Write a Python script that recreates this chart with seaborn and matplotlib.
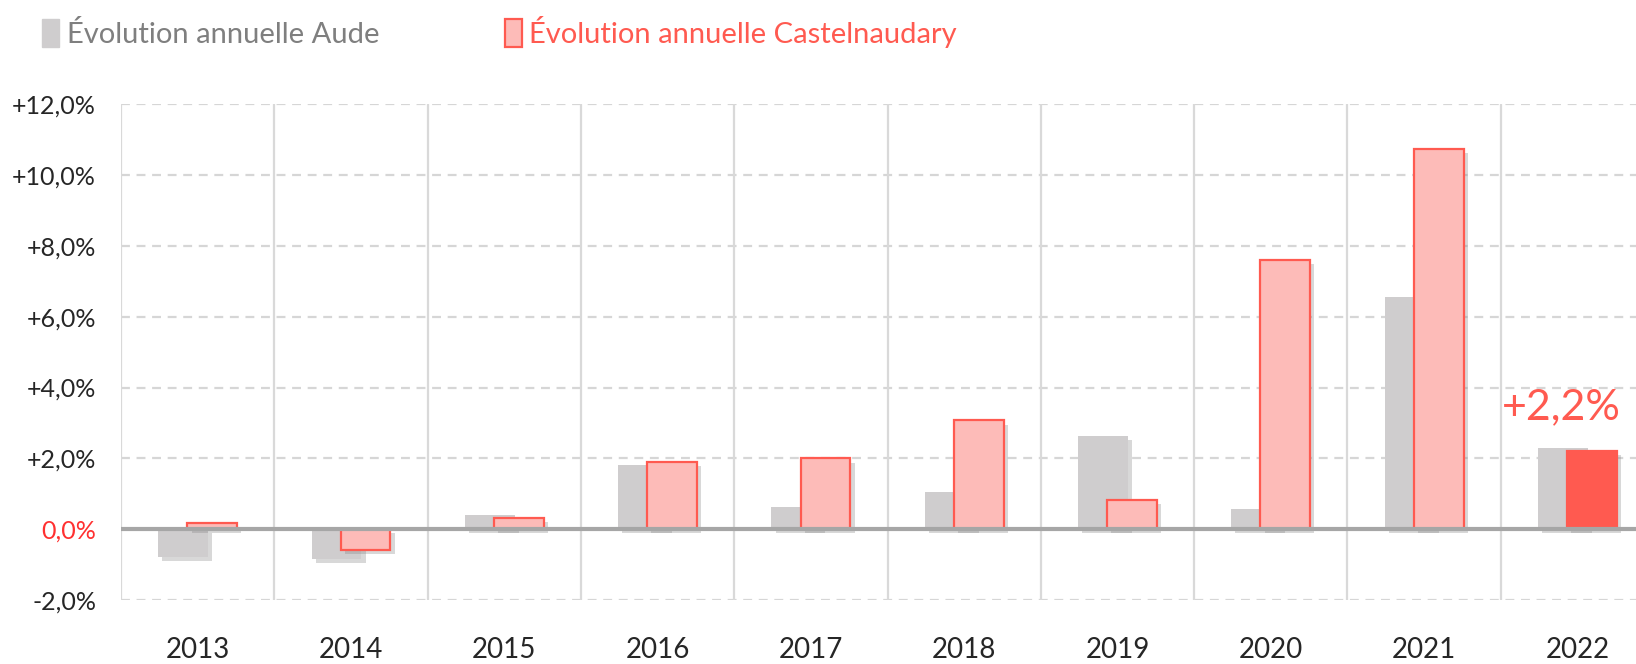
import numpy as np
import pandas as pd
import matplotlib
matplotlib.use("Agg")
import matplotlib.pyplot as plt
import matplotlib.patheffects as pe
from matplotlib.patches import Patch
import seaborn as sns

# values (annual change, %)
years = [2013, 2014, 2015, 2016, 2017, 2018, 2019, 2020, 2021, 2022]
aude = [-0.78, -0.83, 0.40, 1.80, 0.62, 1.06, 2.63, 0.58, 6.55, 2.28]
castelnaudary = [0.18, -0.59, 0.32, 1.89, 2.00, 3.07, 0.83, 7.61, 10.74, 2.20]
yticks = [-2, 0, 2, 4, 6, 8, 10, 12]
label_aude = "Évolution annuelle Aude"
label_cast = "Évolution annuelle Castelnaudary"

GREY = "#CFCDCE"
PINK = "#FDBBB8"
RED = "#FF5A50"
TXT = "#262626"

sns.set_style("white")
plt.rcParams['font.family'] = ['Lato', 'DejaVu Sans']

df_aude = pd.DataFrame({"x": np.array(years) - 0.095, "v": aude})
df_cast = pd.DataFrame({"x": np.array(years) + 0.095, "v": castelnaudary,
                        "kind": ["normal"] * (len(years) - 1) + ["last"]})

fig = plt.figure(figsize=(16.36, 6.64), dpi=100)
ax = fig.add_axes([0.074, 0.0964, 0.937, 0.7466])

shadow = [pe.SimplePatchShadow(offset=(3, -3), shadow_rgbFace="#808080", alpha=0.3), pe.Normal()]

sns.barplot(data=df_aude, x="x", y="v", native_scale=True, orient="x", width=0.325,
            color=GREY, saturation=1, linewidth=0, ax=ax, errorbar=None)
n_grey = len(ax.patches)
sns.barplot(data=df_cast, x="x", y="v", hue="kind", native_scale=True, orient="x", width=0.325,
            palette={"normal": PINK, "last": RED}, saturation=1, edgecolor=RED, linewidth=1.6,
            dodge=False, legend=False, ax=ax, errorbar=None)
for i, p in enumerate(ax.patches):
    p.set_path_effects(shadow)
    p.set_zorder(3 if i < n_grey else 4)

ax.set_xlim(years[0] - 0.5, years[-1] + 0.5)
ax.set_ylim(-2, 12)

# grid: dashed horizontals, solid verticals at category boundaries
for t in yticks:
    if t != 0:
        ax.axhline(t, color="#D6D6D6", lw=1.6, ls=(0, (4, 3)), zorder=1)
for b in np.arange(years[0] - 0.5, years[-1] + 1.0, 1.0):
    ax.axvline(b, color="#D9D9D9", lw=1.6, zorder=1)
ax.axhline(0, color="#A6A6A6", lw=3, zorder=5)

sns.despine(ax=ax, left=True, bottom=True, top=True, right=True)
ax.set_yticks(yticks)
ax.set_yticklabels([("+" if t > 0 else "") + f"{t:.1f}".replace(".", ",") + "%" for t in yticks])
ax.set_xticks(years)
ax.set_xticklabels([str(y) for y in years])
ax.tick_params(axis="y", length=0, pad=18, labelsize=18, labelcolor=TXT)
ax.tick_params(axis="x", length=0, pad=27, labelsize=20, labelcolor=TXT)
for lab in ax.get_yticklabels():
    if lab.get_text() == "0,0%":
        lab.set_color("#FF3030")
ax.set_xlabel("")
ax.set_ylabel("")

ax.text(years[-1] - 0.49, 3.45, "+" + f"{castelnaudary[-1]:.1f}".replace(".", ",") + "%",
        color=RED, fontsize=31, va="center", ha="left", clip_on=False)

handles = [Patch(facecolor=GREY, edgecolor=GREY), Patch(facecolor=PINK, edgecolor=RED, linewidth=1.6)]
leg = fig.legend(handles, [label_aude, label_cast], loc="upper left", bbox_to_anchor=(0.0095, 1.015),
                 ncol=2, frameon=False, fontsize=21, handlelength=0.6, handleheight=1.1,
                 handletextpad=0.25, columnspacing=4.3)
leg.get_texts()[0].set_color("#7F7F7F")
leg.get_texts()[1].set_color(RED)

fig.savefig("out.png", dpi=100)
